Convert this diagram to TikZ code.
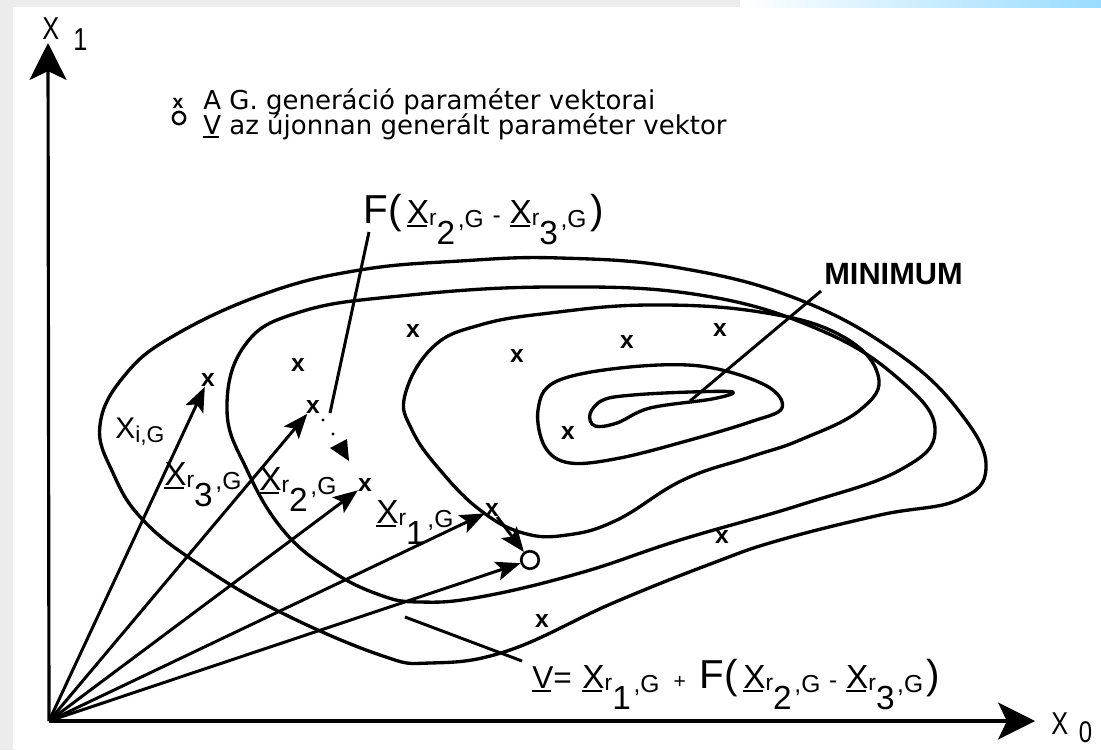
\documentclass[tikz,border=0pt]{standalone}
\usepackage{fontspec}
\setmainfont{Liberation Sans}
\newfontfamily\legfont{DejaVu Sans}
\usetikzlibrary{arrows.meta}
\newcommand\fs[1]{\fontsize{#1}{#1}\selectfont}
\newcommand\ul[1]{\rlap{\rule[-2.2pt]{.6em}{.8pt}}#1}
% sub label: X_{r#1,G}
\newcommand\XrG[1]{\mbox{\fs{19}\ul{X}}\raisebox{-1.7pt}{\fs{13}r}\raisebox{-12pt}{\fs{19}#1}\kern1.5pt\raisebox{-2.3pt}{\fs{14},G}}
\newcommand\bigF[1]{{\fs{23}#1}}
\begin{document}
\begin{tikzpicture}[x=0.02cm,y=-0.02cm,
  contour/.style={line width=1.9pt, line join=round},
  vec/.style={line width=1.7pt,-{Stealth[length=14pt,width=11pt,inset=3pt]}},
  axis/.style={line width=1.8pt,-{Stealth[length=21pt,width=21pt,inset=5pt]}},
  pt/.style={font=\fs{14}\bfseries, inner sep=0pt},
  lab/.style={inner sep=0pt, anchor=base west},
  lead/.style={line width=1.7pt},
]
% background
\fill[gray!15] (0,0) rectangle (1101,750);
\fill[white] (13,7) rectangle (1101,750);
\shade[left color=white, right color=blue!35!cyan!40] (740,0) rectangle (1101,8);
\useasboundingbox (0,0) rectangle (1101,750);

% contours
\draw[contour] plot[smooth cycle, tension=0.7] coordinates {(100,425) (125,375) (175,335) (267,293) (360,270) (460,261) (560,258) (680,268) (800,300) (900,355) (962,415) (986,468) (958,500) (880,515) (780,540) (713,563) (613,603) (507,651) (430,663) (380,655) (280,612) (200,565) (143,520) (113,473)};
\draw[contour] plot[smooth cycle, tension=0.7] coordinates {(227,410) (245,345) (300,312) (400,296) (550,287) (700,295) (820,330) (900,380) (935,430) (900,470) (800,505) (680,540) (580,573) (480,597) (420,602) (380,595) (330,570) (283,530) (247,470)};
\draw[contour] plot[smooth cycle, tension=0.7] coordinates {(405,395) (433,347) (480,325) (550,313) (650,305) (760,312) (840,335) (878,375) (860,410) (800,440) (750,457) (683,480) (617,520) (567,535) (523,533) (480,510) (440,470) (412,430)};
\draw[contour] plot[smooth cycle, tension=0.6] coordinates {(538,410) (555,382) (620,368) (700,366) (765,385) (782,408) (750,422) (690,440) (620,458) (570,463) (545,447)};
\draw[contour] plot[smooth cycle, tension=0.6] coordinates {(590,414) (603,400) (633,395) (690,392) (733,392) (712,399) (650,408) (617,423) (595,426)};

% axes
\coordinate (O) at (49,721);
\coordinate (Ytop) at (48,43);
\coordinate (Xend) at (1035,721);
\draw[axis] (O) -- (Ytop);
\draw[axis] (O) -- (Xend);
\node[lab] (lx1) at (42,40) {\scalebox{0.8}[1]{\fs{18}X}\hspace{8pt}\raisebox{-6pt}{\scalebox{0.8}[1]{\fs{18}1}}};
\node[lab] (lx0) at (1051,734) {\scalebox{0.8}[1]{\fs{18}X}\hspace{6pt}\raisebox{-5pt}{\scalebox{0.8}[1]{\fs{17}0}}};

% legend
\node[pt, font=\fs{11}\bfseries] (lgx) at (178,103) {x};
\node[circle, draw, line width=1.4pt, minimum size=7pt, inner sep=0] (lgo) at (179,118) {};
\node[lab, font=\legfont\fs{14.8}] (lg1) at (203,110) {A G. generáció paraméter vektorai};
\node[lab, font=\legfont\fs{14.8}] (lg2) at (203,134) {\ul{V} az újonnan generált paraméter vektor};

% points
\node[pt] (pi) at (208,380) {x};
\node[pt] (p2) at (298,365) {x};
\node[pt] (p3) at (413,331) {x};
\node[pt] (p4) at (517,356) {x};
\node[pt] (p5) at (627,342) {x};
\node[pt] (p6) at (720,330) {x};
\node[pt] (p7) at (568,433) {x};
\node[pt] (pr3) at (313,407) {x};
\node[pt] (pr2) at (365,485) {x};
\node[pt] (pr1) at (492,510) {x};
\node[pt] (p8) at (722,537) {x};
\node[pt] (p9) at (542,621) {x};
\node[circle, draw, line width=1.5pt, minimum size=10pt, inner sep=0] (V) at (530,560) {};

% vectors
\draw[vec] (O) -- (pi);
\draw[vec] (O) -- (pr3);
\draw[vec] (O) -- (pr2);
\draw[vec] (O) -- (pr1);
\draw[vec] (O) -- (V);
\draw[vec] (pr1) -- (V);

% F difference (dotted)
\coordinate (fd1) at (323,420);
\coordinate (fd2) at (333,434);
\fill (fd1) circle (1.7);
\fill (fd2) circle (1.7);
\fill (330,448) -- (347,439) -- (349,461) -- cycle;

% labels
\node[lab] (lxi) at (115,438) {\fs{17}X\raisebox{-2.8pt}{\fs{13}i,G}};
\node[lab] (lr3) at (164,485) {\XrG{3}};
\node[lab] (lr2) at (259,490) {\XrG{2}};
\node[lab] (lr1) at (376,523) {\XrG{1}};
\node[lab] (lF) at (363,223) {\bigF{F(}\hspace{3pt}\XrG{2}\hspace{5pt}{\fs{14}-}\hspace{5pt}\XrG{3}\hspace{2pt}\bigF{)}};
\coordinate (Fend) at (330,413);
\draw[lead] (369,232) -- (Fend);

\node[lab, font=\fs{17.5}\bfseries] (lmin) at (824,284) {MINIMUM};
\coordinate (minpt) at (690,401);
\draw[lead] (821,291) -- (minpt);

\node[lab] (lV) at (532,688) {{\fs{18}\ul{V}=}\hspace{6pt}\XrG{1}\hspace{8pt}{\fs{12}+}\hspace{8pt}\bigF{F(}\hspace{3pt}\XrG{2}\hspace{5pt}{\fs{14}-}\hspace{5pt}\XrG{3}\hspace{2pt}\bigF{)}};
\coordinate (vp) at (405,617);
\coordinate (vq) at (522,661);
\draw[lead] (vp) -- (vq);
\end{tikzpicture}
\end{document}
